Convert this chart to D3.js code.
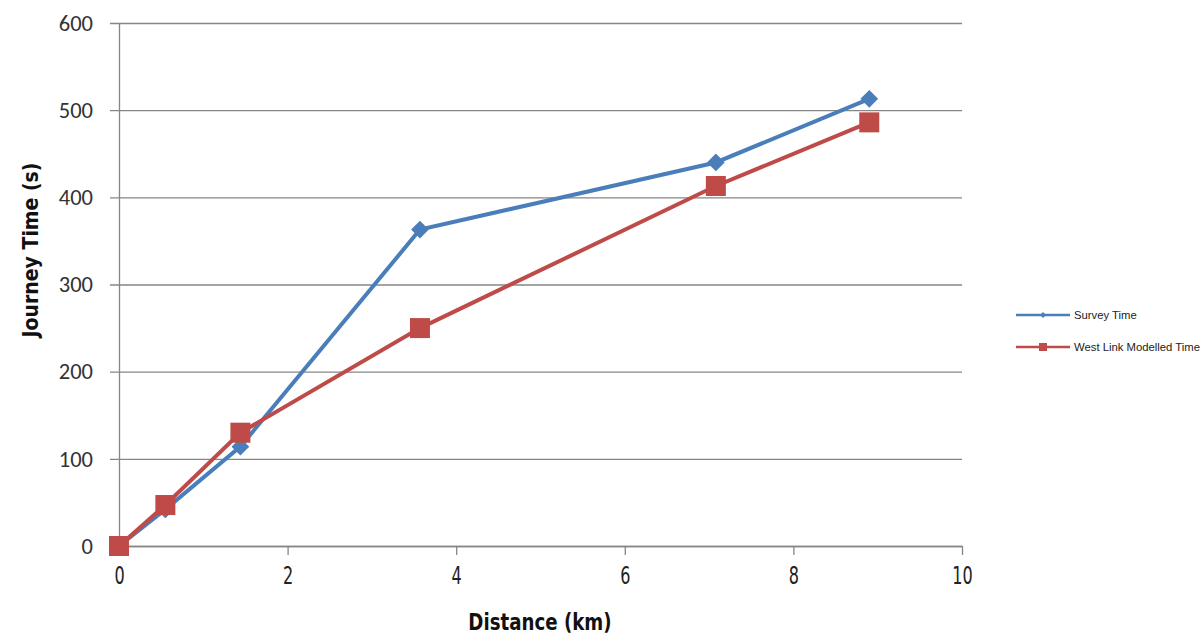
<!DOCTYPE html>
<html><head><meta charset="utf-8">
<script src="https://cdn.jsdelivr.net/npm/d3@7"></script>
<style>body{margin:0;background:#fff;} svg{display:block;}</style>
</head><body><svg id="c" width="1204" height="642"></svg>
<script>
const distance = [0, 0.55, 1.44, 3.57, 7.08, 8.9];
const surveyTime = [0, 42, 114, 363, 440, 513];
const modelledTime = [0, 47, 130, 250, 413, 486];
const seriesNames = ["Survey Time", "West Link Modelled Time"];
const xTicks = [0, 2, 4, 6, 8, 10];
const yTicks = [0, 100, 200, 300, 400, 500, 600];

const svg = d3.select("#c");
const L = 119, R = 962, T = 23, B = 546;
const x = d3.scaleLinear().domain([0, 10]).range([L, R]);
const y = d3.scaleLinear().domain([0, 600]).range([B, T]);
const grey = "#868686";

// gridlines + y ticks
const yAxis = d3.axisLeft(y).tickValues(yTicks).tickSize(-(R - L)).tickSizeOuter(0).tickPadding(26);
const gy = svg.append("g").attr("transform", `translate(${L},0)`).call(yAxis);
gy.select(".domain").attr("stroke", grey).attr("stroke-width", 1.3);
gy.selectAll(".tick line").attr("stroke", grey).attr("stroke-width", 1.3).attr("x1", -9);
gy.selectAll(".tick text").attr("font-family", "Carlito, 'Open Sans', sans-serif")
  .attr("font-size", 22.5).attr("fill", "#333");

// x axis
const xAxis = d3.axisBottom(x).tickValues(xTicks).tickSize(9).tickSizeOuter(0).tickPadding(12);
const gx = svg.append("g").attr("transform", `translate(0,${B})`).call(xAxis);
gx.select(".domain").attr("stroke", grey).attr("stroke-width", 1.3);
gx.selectAll(".tick line").attr("stroke", grey).attr("stroke-width", 1.3);
gx.selectAll(".tick text").attr("font-family", "'Liberation Sans Narrow', 'DejaVu Sans Condensed', sans-serif")
  .attr("font-size", 21).attr("fill", "#222")
  .attr("transform", "scale(0.85,1.15)").attr("y", 18);

// axis titles
svg.append("text").attr("x", 540).attr("y", 630).attr("text-anchor", "middle")
  .attr("font-family", "'Liberation Sans Narrow', 'DejaVu Sans Condensed', sans-serif")
  .attr("font-weight", "bold").attr("font-size", 22).attr("fill", "#111")
  .attr("transform", "translate(540,630) scale(0.92,1.05) translate(-540,-630)")
  .text("Distance (km)");
svg.append("text").attr("transform", "translate(38,250) rotate(-90)").attr("text-anchor", "middle")
  .attr("font-family", "'Liberation Sans Narrow', 'DejaVu Sans Condensed', sans-serif")
  .attr("font-weight", "bold").attr("font-size", 21).attr("fill", "#111")
  .text("Journey Time (s)");

const blue = "#4A7EBB", red = "#BE4B48";
const data1 = distance.map((d, i) => [d, surveyTime[i]]);
const data2 = distance.map((d, i) => [d, modelledTime[i]]);
const line = d3.line().x(d => x(d[0])).y(d => y(d[1]));

svg.append("path").datum(data1).attr("d", line).attr("fill", "none").attr("stroke", blue).attr("stroke-width", 4);
svg.selectAll(".dia").data(data1).enter().append("path")
  .attr("d", d3.symbol().type(d3.symbolDiamond2).size(200))
  .attr("transform", d => `translate(${x(d[0])},${y(d[1])})`)
  .attr("fill", blue);

svg.append("path").datum(data2).attr("d", line).attr("fill", "none").attr("stroke", red).attr("stroke-width", 4);
svg.selectAll(".sq").data(data2).enter().append("rect")
  .attr("x", d => x(d[0]) - 10).attr("y", d => y(d[1]) - 10)
  .attr("width", 20).attr("height", 20).attr("fill", red);

// legend
const leg = svg.append("g");
const legY = [315, 347];
const cols = [blue, red];
seriesNames.forEach((n, i) => {
  leg.append("line").attr("x1", 1016).attr("x2", 1070).attr("y1", legY[i]).attr("y2", legY[i])
    .attr("stroke", cols[i]).attr("stroke-width", 2.5);
  if (i === 0) {
    leg.append("path").attr("d", d3.symbol().type(d3.symbolDiamond2).size(22))
      .attr("transform", `translate(1043,${legY[i]})`).attr("fill", cols[i]);
  } else {
    leg.append("rect").attr("x", 1039).attr("y", legY[i] - 4).attr("width", 8).attr("height", 8).attr("fill", cols[i]);
  }
  leg.append("text").attr("x", 1074).attr("y", legY[i] + 4)
    .attr("font-family", "'Liberation Sans', sans-serif").attr("font-size", 11.3).attr("fill", "#222")
    .text(n);
});
</script></body></html>
